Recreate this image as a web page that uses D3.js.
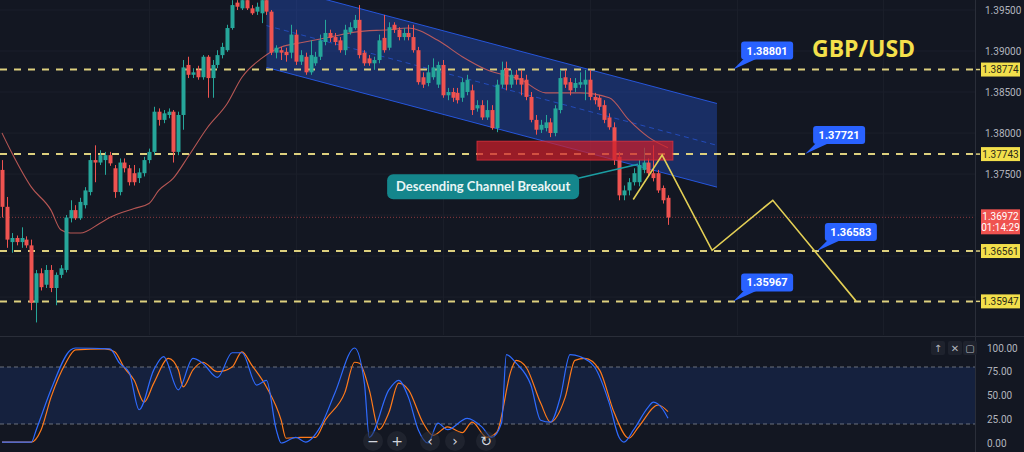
<!DOCTYPE html>
<html><head><meta charset="utf-8">
<script src="https://cdn.jsdelivr.net/npm/d3@7"></script>
<style>html,body{margin:0;padding:0;background:#131722;overflow:hidden}</style>
</head><body><svg id="c" width="1024" height="452"></svg>
<script>
// ---------- DATA ----------
const opens = [1.3755,1.3710,1.3667,1.3672,1.3667,1.3670,1.3663,1.3593,1.3629,1.3615,
1.3633,1.3611,1.3627,1.3633,1.3696,1.3706,1.3696,1.3712,1.3728,1.3767,
1.3764,1.3767,1.3773,1.3757,1.3728,1.3764,1.3757,1.3751,1.3745,1.3751,
1.3767,1.3777,1.3826,1.3816,1.3822,1.3826,1.3777,1.3822,1.3883,1.3871,
1.3877,1.3868,1.3893,1.3867,1.3883,1.3895,1.3901,1.3928,1.3959,1.3952,
1.3962,1.3952,1.3948,1.3946,1.3962,1.3948,1.3898,1.3901,1.3899,1.3898,
1.3920,1.3887,1.3893,1.3874,1.3885,1.3893,1.3911,1.3922,1.3917,1.3913,
1.3901,1.3923,1.3928,1.3938,1.3898,1.3891,1.3885,1.3889,1.3916,1.3904,
1.3932,1.3926,1.3917,1.3922,1.3917,1.3901,1.3868,1.3861,1.3868,1.3859,
1.3883,1.3846,1.3850,1.3849,1.3843,1.3850,1.3852,1.3830,1.3834,1.3819,
1.3828,1.3806,1.3859,1.3879,1.3859,1.3871,1.3867,1.3865,1.3844,1.3816,
1.3804,1.3806,1.3813,1.3800,1.3828,1.3868,1.3862,1.3855,1.3859,1.3859,
1.3865,1.3844,1.3843,1.3834,1.3819,1.3807,1.3771,1.3724,1.3730,1.3740,
1.3740,1.3755,1.3764,1.3751,1.3751,1.3733,1.3721];
const highs = [1.3767,1.3722,1.3678,1.3675,1.3685,1.3674,1.3670,1.3633,1.3635,1.3639,
1.3639,1.3630,1.3639,1.3700,1.3718,1.3712,1.3721,1.3734,1.3773,1.3785,
1.3779,1.3777,1.3777,1.3761,1.3769,1.3769,1.3761,1.3761,1.3757,1.3771,
1.3781,1.3832,1.3830,1.3828,1.3830,1.3828,1.3826,1.3889,1.3893,1.3879,
1.3882,1.3895,1.3895,1.3889,1.3901,1.3910,1.3932,1.3962,1.3962,1.3965,
1.3965,1.3956,1.3959,1.3965,1.3965,1.3950,1.3907,1.3905,1.3904,1.3932,
1.3926,1.3901,1.3898,1.3913,1.3899,1.3920,1.3938,1.3926,1.3922,1.3917,
1.3932,1.3935,1.3944,1.3956,1.3901,1.3895,1.3893,1.3920,1.3944,1.3935,
1.3935,1.3929,1.3928,1.3932,1.3932,1.3905,1.3874,1.3883,1.3891,1.3887,
1.3889,1.3855,1.3855,1.3855,1.3867,1.3871,1.3859,1.3840,1.3840,1.3840,
1.3834,1.3865,1.3887,1.3887,1.3877,1.3877,1.3877,1.3871,1.3850,1.3822,
1.3816,1.3822,1.3818,1.3834,1.3877,1.3877,1.3867,1.3867,1.3874,1.3877,
1.3877,1.3849,1.3846,1.3840,1.3824,1.3813,1.3777,1.3736,1.3745,1.3757,
1.3767,1.3782,1.3769,1.3785,1.3755,1.3736,1.3724];
const lows = [1.3697,1.3660,1.3654,1.3663,1.3660,1.3660,1.3584,1.3569,1.3608,1.3611,
1.3606,1.3590,1.3623,1.3630,1.3691,1.3694,1.3694,1.3708,1.3724,1.3740,
1.3761,1.3749,1.3760,1.3721,1.3724,1.3752,1.3736,1.3736,1.3739,1.3747,
1.3763,1.3773,1.3809,1.3812,1.3818,1.3764,1.3773,1.3804,1.3867,1.3867,
1.3865,1.3865,1.3843,1.3843,1.3879,1.3891,1.3899,1.3926,1.3950,1.3950,
1.3950,1.3944,1.3944,1.3934,1.3944,1.3895,1.3891,1.3889,1.3887,1.3891,
1.3883,1.3883,1.3871,1.3871,1.3882,1.3889,1.3907,1.3911,1.3907,1.3898,
1.3895,1.3920,1.3926,1.3891,1.3882,1.3882,1.3877,1.3885,1.3898,1.3901,
1.3922,1.3913,1.3913,1.3913,1.3898,1.3859,1.3855,1.3857,1.3865,1.3855,
1.3843,1.3840,1.3838,1.3836,1.3838,1.3846,1.3822,1.3826,1.3816,1.3816,
1.3804,1.3801,1.3855,1.3852,1.3855,1.3859,1.3846,1.3840,1.3813,1.3798,
1.3800,1.3802,1.3795,1.3796,1.3824,1.3855,1.3846,1.3850,1.3855,1.3840,
1.3840,1.3835,1.3828,1.3812,1.3804,1.3761,1.3718,1.3718,1.3724,1.3736,
1.3735,1.3751,1.3747,1.3741,1.3727,1.3714,1.3688];
const closes = [1.3710,1.3670,1.3672,1.3667,1.3672,1.3663,1.3593,1.3629,1.3612,1.3633,
1.3611,1.3627,1.3635,1.3697,1.3706,1.3696,1.3716,1.3730,1.3767,1.3764,
1.3773,1.3773,1.3763,1.3728,1.3764,1.3757,1.3740,1.3740,1.3752,1.3767,
1.3777,1.3826,1.3816,1.3824,1.3826,1.3777,1.3822,1.3880,1.3871,1.3874,
1.3868,1.3893,1.3867,1.3883,1.3895,1.3905,1.3928,1.3956,1.3954,1.3962,
1.3952,1.3946,1.3954,1.3962,1.3948,1.3898,1.3904,1.3898,1.3895,1.3920,
1.3887,1.3895,1.3874,1.3895,1.3893,1.3913,1.3922,1.3916,1.3911,1.3901,
1.3926,1.3929,1.3938,1.3895,1.3885,1.3885,1.3889,1.3913,1.3901,1.3929,
1.3926,1.3917,1.3922,1.3917,1.3901,1.3862,1.3859,1.3874,1.3880,1.3883,
1.3846,1.3850,1.3843,1.3840,1.3862,1.3865,1.3828,1.3834,1.3819,1.3828,
1.3806,1.3859,1.3877,1.3859,1.3871,1.3865,1.3859,1.3844,1.3816,1.3804,
1.3810,1.3813,1.3800,1.3830,1.3867,1.3859,1.3852,1.3861,1.3862,1.3865,
1.3844,1.3840,1.3832,1.3816,1.3807,1.3767,1.3724,1.3730,1.3740,1.3751,
1.3761,1.3764,1.3751,1.3745,1.3730,1.3718,1.3697];

// moving average
const maIdx = [0,2,6,10,12,14,16,20,22,27,30,32,35,38,42,46,49,53,55,57,61,67,72,79,83,89,94,99,106,111,118,124,128,132,136];
const maVal = [1.3800,1.3776,1.3734,1.3706,1.3682,1.3678,1.3678,1.3690,1.3697,1.3708,1.3714,1.3730,1.3745,1.3771,1.3807,1.3836,1.3868,1.3891,1.3899,1.3905,1.3910,1.3917,1.3923,1.3926,1.3928,1.3913,1.3893,1.3877,1.3865,1.3849,1.3849,1.3843,1.3816,1.3795,1.3782];

// descending channel
const channelIdx = [54, 146];
const channelUpper = [1.3982, 1.3836];
const channelMid = [1.3931, 1.3785];
const channelLower = [1.3880, 1.3734];

// resistance zone
const zoneIdx = [97, 137];
const zonePrice = [1.3790, 1.3767];

// horizontal levels
const levels = [1.38774, 1.37743, 1.36561, 1.35947];
const levelLabels = ["1.38774", "1.37743", "1.36561", "1.35947"];

// callouts
const calloutLabels = ["1.38801", "1.37721", "1.36583", "1.35967"];
const calloutIdx = [149.3, 164.0, 166.4, 149.3];
const calloutPrice = [1.38774, 1.37743, 1.36561, 1.35947];

// projection path
const projIdx = [128.9, 134.8, 145.0, 157.4, 174.4];
const projPrice = [1.3719, 1.3773, 1.3657, 1.3718, 1.3595];

// breakout annotation
const breakoutText = "Descending Channel Breakout";
const breakoutIdx = 129.9, breakoutPrice = 1.3762;

const lastPrice = 1.36972, countdown = "01:14:29";
const pairTitle = "GBP/USD";
const gridTicks = [1.395, 1.39, 1.385, 1.38, 1.375, 1.37, 1.365, 1.36];
const priceTicks = [1.395, 1.39, 1.385, 1.38, 1.375];
const stochTicks = [0, 25, 50, 75, 100];
const stochBand = [80, 20];

// stochastic
const kIdx = [0,6,7,10,14,15,22,24,26,28,31,33,36,39,41,44,47,49,52,54,56,57,60,62,65,68,72,74,75,79,81,83,85,87,89,91,95,98,100,102,103,105,108,110,112,114,116,118,121,124,126,127,129,132,133,135,136];
const kVal = [1,1,14,56,98,100,99,84,74,35,77,91,56,89,84,69,95,95,61,66,14,0,6,1,17,53,100,63,6,56,66,48,14,0,21,14,26,17,6,21,93,84,61,24,22,48,93,91,80,42,6,1,14,38,43,35,26];
const dIdx = [0,6,8,10,13,15,21,23,25,27,29,31,34,36,37,39,41,44,47,49,51,54,57,58,61,64,66,70,72,73,75,77,79,81,83,86,88,91,94,96,99,101,104,105,107,110,112,115,117,119,122,125,128,130,134,136];
const dVal = [1,1,14,48,84,98,99,96,79,66,43,63,89,77,59,77,85,75,80,96,82,59,24,5,6,6,24,53,85,84,56,14,32,63,56,21,8,17,11,22,6,11,77,87,80,42,22,48,87,89,77,32,5,17,40,33];

// ---------- CHART ----------
const W = 1024, H = 452, axisX = 975, mainBottom = 335;
const svg = d3.select("#c");
svg.append("rect").attr("width", W).attr("height", H).attr("fill", "#131722");

const x = d3.scaleLinear().domain([0, 136]).range([2, 668]);
const y = d3.scaleLinear().domain([1.39622, 1.35537]).range([0, mainBottom]);
const ys = d3.scaleLinear().domain([0, 100]).range([443, 348]);

const defs = svg.append("defs");
defs.append("clipPath").attr("id", "mainClip").append("rect").attr("x", 0).attr("y", 0).attr("width", axisX).attr("height", mainBottom);
defs.append("clipPath").attr("id", "stClip").append("rect").attr("x", 0).attr("y", 338).attr("width", axisX).attr("height", 114);

const main = svg.append("g").attr("clip-path", "url(#mainClip)");

// faint grid
main.selectAll("line.hg").data(gridTicks).join("line")
  .attr("x1", 0).attr("x2", axisX).attr("y1", d => y(d)).attr("y2", d => y(d))
  .attr("stroke", "#1b1f2b").attr("stroke-width", 1);
const vGrid = [30, 60, 90, 120, 150, 180];
main.selectAll("line.vg").data(vGrid).join("line")
  .attr("x1", d => Math.round(x(d)) + 0.5).attr("x2", d => Math.round(x(d)) + 0.5).attr("y1", 0).attr("y2", mainBottom)
  .attr("stroke", "#1a1e29").attr("stroke-width", 1);

// channel
const chPoly = [[x(channelIdx[0]), y(channelUpper[0])], [x(channelIdx[1]), y(channelUpper[1])],
                [x(channelIdx[1]), y(channelLower[1])], [x(channelIdx[0]), y(channelLower[0])]];
main.append("polygon").attr("points", chPoly.map(p => p.join(",")).join(" "))
  .attr("fill", "rgba(41,98,255,0.3)").attr("stroke", "none");
main.append("line").attr("x1", x(channelIdx[0])).attr("y1", y(channelUpper[0])).attr("x2", x(channelIdx[1])).attr("y2", y(channelUpper[1]))
  .attr("stroke", "#2962ff").attr("stroke-opacity", 0.8).attr("stroke-width", 1);
main.append("line").attr("x1", x(channelIdx[0])).attr("y1", y(channelLower[0])).attr("x2", x(channelIdx[1])).attr("y2", y(channelLower[1]))
  .attr("stroke", "#2962ff").attr("stroke-opacity", 0.8).attr("stroke-width", 1);
main.append("line").attr("x1", x(channelIdx[0])).attr("y1", y(channelMid[0])).attr("x2", x(channelIdx[1])).attr("y2", y(channelMid[1]))
  .attr("stroke", "#2962ff").attr("stroke-opacity", 0.55).attr("stroke-width", 1).attr("stroke-dasharray", "5,4");

// horizontal dashed levels
main.selectAll("line.lvl").data(levels).join("line")
  .attr("x1", 0).attr("x2", axisX).attr("y1", d => y(d)).attr("y2", d => y(d))
  .attr("stroke", "#ddd07e").attr("stroke-width", 2).attr("stroke-dasharray", "7,7");

// current price dotted line
main.append("line").attr("x1", 0).attr("x2", axisX).attr("y1", y(lastPrice)).attr("y2", y(lastPrice))
  .attr("stroke", "#8c3a3f").attr("stroke-width", 1).attr("stroke-dasharray", "1,2");

// MA line
main.append("path").datum(maIdx.map((d, i) => [d, maVal[i]]))
  .attr("d", d3.line().x(d => x(d[0])).y(d => y(d[1])).curve(d3.curveMonotoneX))
  .attr("fill", "none").attr("stroke", "#d4615d").attr("stroke-opacity", 0.85).attr("stroke-width", 1.1);

// candles
const candles = opens.map((o, i) => ({ i, o, h: highs[i], l: lows[i], c: closes[i] }));
const cg = main.append("g");
cg.selectAll("line.wick").data(candles).join("line")
  .attr("x1", d => Math.round(x(d.i)) + 0.5).attr("x2", d => Math.round(x(d.i)) + 0.5)
  .attr("y1", d => y(d.h)).attr("y2", d => y(d.l))
  .attr("stroke", d => d.c >= d.o ? "#26a69a" : "#ef5350").attr("stroke-width", 1);
cg.selectAll("rect.body").data(candles).join("rect")
  .attr("x", d => Math.round(x(d.i)) - 1.5).attr("width", 4)
  .attr("y", d => y(Math.max(d.o, d.c))).attr("height", d => Math.max(1, y(Math.min(d.o, d.c)) - y(Math.max(d.o, d.c))))
  .attr("fill", d => d.c >= d.o ? "#26a69a" : "#ef5350");

// resistance zone
main.append("rect").attr("x", x(zoneIdx[0])).attr("width", x(zoneIdx[1]) - x(zoneIdx[0]))
  .attr("y", y(zonePrice[0])).attr("height", y(zonePrice[1]) - y(zonePrice[0]))
  .attr("fill", "rgba(205,30,42,0.72)").attr("stroke", "rgba(225,50,60,0.8)").attr("stroke-width", 1);

// projection path
main.append("path").datum(projIdx.map((d, i) => [d, projPrice[i]]))
  .attr("d", d3.line().x(d => x(d[0])).y(d => y(d[1])))
  .attr("fill", "none").attr("stroke", "#e3cf55").attr("stroke-width", 1.6);

// breakout annotation
const bx = x(breakoutIdx), by = y(breakoutPrice);
main.append("line").attr("x1", bx - 60).attr("y1", by + 14).attr("x2", bx).attr("y2", by)
  .attr("stroke", "#1b9ea3").attr("stroke-width", 1.5);
main.append("rect").attr("x", bx - 251).attr("y", by + 10).attr("width", 192).attr("height", 25).attr("rx", 6)
  .attr("fill", "#14868c");
main.append("text").attr("x", bx - 155).attr("y", by + 27).attr("text-anchor", "middle")
  .attr("font-family", "Lato, 'Open Sans', sans-serif").attr("font-weight", 700).attr("font-size", 13)
  .attr("fill", "#e9f5f5").text(breakoutText);

// callouts
calloutLabels.forEach((lab, k) => {
  const ax = x(calloutIdx[k]), ay = y(calloutPrice[k]);
  const g = main.append("g");
  g.append("path").attr("d", `M${ax},${ay} L${ax + 11},${ay - 11} L${ax + 24},${ay - 11} Z`).attr("fill", "#2962ff");
  g.append("rect").attr("x", ax + 8).attr("y", ay - 28).attr("width", 52).attr("height", 18).attr("rx", 3).attr("fill", "#2962ff");
  g.append("text").attr("x", ax + 34).attr("y", ay - 15).attr("text-anchor", "middle")
    .attr("font-family", "Roboto, sans-serif").attr("font-weight", 700).attr("font-size", 11).attr("fill", "#ffffff").text(lab);
});

// title
svg.append("text").attr("x", 812).attr("y", 57).attr("font-family", "'Open Sans', sans-serif").attr("font-weight", 700)
  .attr("font-size", 23).attr("fill", "#f4e04b").text(pairTitle);

// ---------- STOCHASTIC ----------
const st = svg.append("g").attr("clip-path", "url(#stClip)");
st.append("rect").attr("x", 0).attr("width", axisX).attr("y", ys(stochBand[0])).attr("height", ys(stochBand[1]) - ys(stochBand[0]))
  .attr("fill", "rgba(41,98,255,0.13)");
st.selectAll("line.band").data(stochBand).join("line")
  .attr("x1", 0).attr("x2", axisX).attr("y1", d => ys(d)).attr("y2", d => ys(d))
  .attr("stroke", "#8a8e99").attr("stroke-opacity", 0.75).attr("stroke-width", 1).attr("stroke-dasharray", "4,3");
st.append("path").datum(dIdx.map((d, i) => [d, dVal[i]]))
  .attr("d", d3.line().x(d => x(d[0])).y(d => ys(d[1])).curve(d3.curveMonotoneX))
  .attr("fill", "none").attr("stroke", "#ff7a1a").attr("stroke-width", 1.2);
st.append("path").datum(kIdx.map((d, i) => [d, kVal[i]]))
  .attr("d", d3.line().x(d => x(d[0])).y(d => ys(d[1])).curve(d3.curveMonotoneX))
  .attr("fill", "none").attr("stroke", "#2f6bff").attr("stroke-width", 1.2);

// pane separators
svg.append("line").attr("x1", 0).attr("x2", W).attr("y1", 336.5).attr("y2", 336.5).attr("stroke", "#2a2e39").attr("stroke-width", 1);
svg.append("line").attr("x1", axisX + 0.5).attr("x2", axisX + 0.5).attr("y1", 0).attr("y2", H).attr("stroke", "#2a2e39").attr("stroke-width", 1);

// ---------- AXES ----------
const pAxis = svg.append("g").attr("transform", `translate(${axisX},0)`)
  .call(d3.axisRight(y).tickValues(priceTicks).tickFormat(d3.format(".5f")).tickSize(0).tickPadding(10));
pAxis.select(".domain").remove();
pAxis.selectAll("text").attr("fill", "#b2b5be").attr("font-family", "Roboto, sans-serif").attr("font-size", 10);

const sAxis = svg.append("g").attr("transform", `translate(${axisX},0)`)
  .call(d3.axisRight(ys).tickValues(stochTicks).tickFormat(d3.format(".2f")).tickSize(0).tickPadding(12));
sAxis.select(".domain").remove();
sAxis.selectAll("text").attr("fill", "#b2b5be").attr("font-family", "Roboto, sans-serif").attr("font-size", 10);

// level labels on axis
levels.forEach((lv, k) => {
  const yy = y(lv);
  svg.append("line").attr("x1", axisX + 1).attr("x2", axisX + 5).attr("y1", yy).attr("y2", yy).attr("stroke", "#ddd07e").attr("stroke-width", 1.5);
  svg.append("rect").attr("x", axisX + 6).attr("y", yy - 7).attr("width", 39).attr("height", 14).attr("fill", "#f2df4b");
  svg.append("text").attr("x", axisX + 25.5).attr("y", yy + 3.5).attr("text-anchor", "middle")
    .attr("font-family", "Roboto, sans-serif").attr("font-size", 10).attr("fill", "#2a2a1a").text(levelLabels[k]);
});
// last price label
const ly = y(lastPrice);
svg.append("rect").attr("x", axisX + 6).attr("y", ly - 8).attr("width", 39).attr("height", 25).attr("fill", "#ef5350");
svg.append("text").attr("x", axisX + 25.5).attr("y", ly + 3).attr("text-anchor", "middle")
  .attr("font-family", "Roboto, sans-serif").attr("font-size", 10).attr("fill", "#ffffff").text(d3.format(".5f")(lastPrice));
svg.append("text").attr("x", axisX + 25.5).attr("y", ly + 14).attr("text-anchor", "middle")
  .attr("font-family", "Roboto, sans-serif").attr("font-size", 10).attr("fill", "#ffffff").text(countdown);

// pane controls
const icons = [["↑", 938], ["✕", 955], ["▢", 970]];
icons.forEach(([t, ix]) => {
  svg.append("rect").attr("x", ix - 7).attr("y", 341).attr("width", 14).attr("height", 14).attr("rx", 2).attr("fill", "#1e222d");
  svg.append("text").attr("x", ix).attr("y", 352).attr("text-anchor", "middle").attr("font-family", "DejaVu Sans, sans-serif")
    .attr("font-size", 10).attr("fill", "#b2b5be").text(t);
});
const nav = [["−", 373], ["+", 397], ["‹", 430], ["›", 455], ["↻", 486]];
nav.forEach(([t, nx]) => {
  svg.append("circle").attr("cx", nx).attr("cy", 441).attr("r", 10).attr("fill", "#2a2e39").attr("fill-opacity", 0.55);
  svg.append("text").attr("x", nx).attr("y", 446).attr("text-anchor", "middle").attr("font-family", "DejaVu Sans, sans-serif")
    .attr("font-size", 14).attr("fill", "#d1d4dc").text(t);
});
</script>
</body></html>
